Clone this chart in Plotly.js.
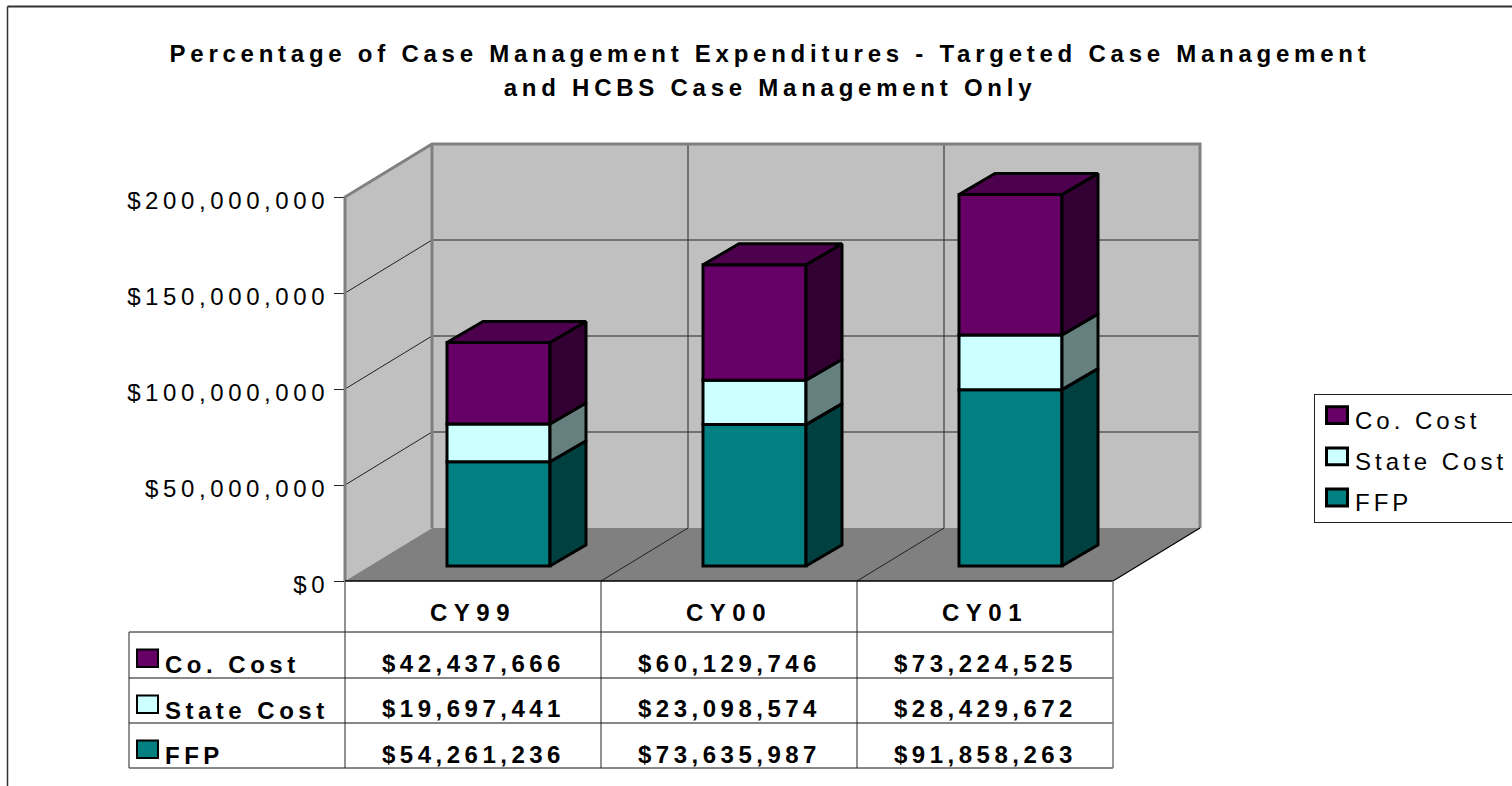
<!DOCTYPE html>
<html><head><meta charset="utf-8">
<script src="https://cdn.plot.ly/plotly-3.0.1.min.js"></script>
<style>
html,body{margin:0;padding:0;background:#fff;overflow:hidden}
#chart{width:1512px;height:786px}
.gtitle{letter-spacing:4.75px}
.xtick text{letter-spacing:6.5px}
.ytick text{letter-spacing:4.6px}
.legendtext{letter-spacing:4px}
.annotation-text{letter-spacing:4.5px}
#chart .legendtext{transform:translateY(2.5px)}
#chart .legendpoints path{transform:translate(22px,-2px) scale(1.75,1.4);vector-effect:non-scaling-stroke}
</style></head><body><div id="chart"></div>
<script>
const categories = ['CY99','CY00','CY01'];
const coCost = [42437666,60129746,73224525];
const stateCost = [19697441,23098574,28429672];
const ffp = [54261236,73635987,91858263];
const yTicks = [0,50000000,100000000,150000000,200000000];
const titleText = 'Percentage of Case Management Expenditures - Targeted Case Management<br>and HCBS Case Management Only';

const series = [
  {name:'FFP', values:ffp, color:'#008080', side:'#004040', rank:3},
  {name:'State Cost', values:stateCost, color:'#CCFFFF', side:'#668080', rank:2},
  {name:'Co. Cost', values:coCost, color:'#660066', side:'#330033', top:'#4D004D', rank:1}
];

// page geometry
const W=1512,H=786,L=345,R=1200,T=145,B=581;
const unitPx=256, valPx=384/200000000;
const px=x=>(x-L)/(R-L), py=y=>(B-y)/(B-T);
const xMax=(R-L)/unitPx-0.5, yMax=(B-T)/valPx;
const dxp=x=>(x+0.5)/(xMax+0.5), dyp=y=>y/yMax;
// depth of the 3-D box, and of each column, in axis units
const wallDX=87/unitPx, wallDY=53/valPx;
const barDX=36/unitPx, barDY=21/valPx;
const barShift=25.5/unitPx, barW=103/unitPx, floorLift=15/valPx;
const xs=categories.map((c,i)=>i);
const x0=-0.5, x3=2.5, yTop=200000000;
const fmt=v=>'$'+v.toLocaleString('en-US');

const traces=[]; const cum=xs.map(()=>floorLift);
series.forEach(s=>{
  const base=cum.slice();
  traces.push({type:'bar',name:s.name,legendgroup:s.name,legendrank:s.rank,x:xs.map(i=>i+barShift),y:s.values,base:base,width:barW,
    marker:{color:s.color,line:{color:'#000',width:3}},hoverinfo:'y+name'});
  const sx=[],sy=[];
  xs.forEach(i=>{
    const r=i+barShift+barW/2, b=base[i], t=b+s.values[i];
    sx.push(r,r+barDX,r+barDX,r,r,null);
    sy.push(b,b+barDY,t+barDY,t,b,null);
    cum[i]=t;
  });
  traces.push({type:'scatter',mode:'lines',x:sx,y:sy,fill:'toself',fillcolor:s.side,line:{color:'#000',width:3},
    showlegend:false,hoverinfo:'skip',cliponaxis:false});
});
const topS=series[series.length-1], tx=[],ty=[];
xs.forEach(i=>{
  const l=i+barShift-barW/2, r=i+barShift+barW/2, t=cum[i];
  tx.push(l,l+barDX,r+barDX,r,l,null); ty.push(t,t+barDY,t+barDY,t,t,null);
});
traces.push({type:'scatter',mode:'lines',x:tx,y:ty,fill:'toself',fillcolor:topS.top,line:{color:'#000',width:3},
  showlegend:false,hoverinfo:'skip',cliponaxis:false});

const poly=(xa,ya)=>'M'+xa.map((x,i)=>x+','+ya[i]).join('L')+'Z';
const open=(xa,ya)=>'M'+xa.map((x,i)=>x+','+ya[i]).join('L');
const bx=x0+wallDX, bx3=x3+wallDX;
const shapes=[];
const below=(path,fill,color,width)=>shapes.push({type:'path',xref:'x',yref:'y',layer:'below',path:path,
  fillcolor:fill||'rgba(0,0,0,0)',line:{color:color||'rgba(0,0,0,0)',width:width||0}});
const frame=(xa,ya,color,width)=>shapes.push({type:'path',xref:'paper',yref:'paper',layer:'above',
  path:open(xa.map(dxp),ya.map(dyp)),fillcolor:'rgba(0,0,0,0)',line:{color:color,width:width}});
// walls and floor
below(poly([bx,bx3,bx3,bx],[wallDY,wallDY,yTop+wallDY,yTop+wallDY]),'#C0C0C0');
below(poly([x0,bx,bx,x0],[0,wallDY,yTop+wallDY,yTop]),'#C0C0C0');
below(poly([x0,bx,bx3,x3],[0,wallDY,wallDY,0]),'#808080');
// gridlines
yTicks.slice(1,-1).forEach(v=>{
  below(open([x0,bx,bx3],[v,v+wallDY,v+wallDY]),null,'#222',1);
});
[0.5,1.5].forEach(c=>{
  below(open([c,c+wallDX,c+wallDX],[0,wallDY,yTop+wallDY]),null,'#222',1);
});
// frame of the walls
frame([x0,x0,bx,bx3,bx3],[0,yTop,yTop+wallDY,yTop+wallDY,wallDY],'#808080',3);
frame([bx,bx],[wallDY,yTop+wallDY],'#808080',3);
frame([x3,bx3],[0,wallDY],'#000',1.2);

const line=(x1,y1,x2,y2,color,width,xref)=>shapes.push({type:'line',xref:xref||'paper',yref:'paper',x0:x1,x1:x2,y0:y1,y1:y2,
  line:{color:color||'#000',width:width||1}});
// outer chart frame
line(px(7.5),py(6.5),px(W+2),py(6.5),'#333',2);
line(px(7.5),py(6.5),px(7.5),py(H+2),'#333',1.5);
// data table grid
const rowY=[632,678,723,768];
line(px(L),py(B),px(L+768),py(B),'#000',1.5);
rowY.forEach(y=>line(px(129),py(y),px(L+768),py(y),'#111',1));
[0,1,2,3].forEach(i=>line(px(L+i*unitPx),py(B),px(L+i*unitPx),py(rowY[3]),i===3?'#777':'#222',i===3?1.5:1));
line(px(129),py(rowY[0]),px(129),py(rowY[3]),'#222',1);

const annotations=[];
const tableFont={family:'Liberation Sans, Arial, sans-serif',size:24,color:'#000',weight:700};
const rows=series.slice().reverse();
rows.forEach((s,r)=>{
  const cy=[663,708,754][r], ly=[664,710,755][r];
  annotations.push({xref:'paper',yref:'paper',x:px(165),y:py(ly),xanchor:'left',yanchor:'middle',showarrow:false,text:s.name,font:tableFont,xshift:-2});
  s.values.forEach((v,i)=>annotations.push({xref:'x',yref:'paper',x:xs[i],y:py(cy),xanchor:'center',yanchor:'middle',showarrow:false,text:fmt(v),font:tableFont}));
  const sy=[649.5,695.5,740.5][r];
  shapes.push({type:'rect',xref:'paper',yref:'paper',x0:px(137),x1:px(158),y0:py(sy),y1:py(sy+17.5),fillcolor:s.color,line:{color:'#000',width:2}});
});

const layout={
  width:W,height:H,margin:{l:L,r:W-R,t:T,b:H-B,pad:0,autoexpand:false},
  paper_bgcolor:'#fff',plot_bgcolor:'rgba(0,0,0,0)',
  barmode:'overlay',
  font:{family:'Liberation Sans, Arial, sans-serif',color:'#000'},
  title:{text:titleText,x:770/W,xanchor:'center',y:1-62/H,yanchor:'top',
    font:{family:'Liberation Sans, Arial, sans-serif',size:24,weight:700,color:'#000'}},
  xaxis:{range:[-0.5,xMax],tickvals:xs,ticktext:categories,showgrid:false,zeroline:false,showline:false,ticks:'',
    ticklabelstandoff:15,tickfont:{size:24,weight:700},fixedrange:true},
  yaxis:{range:[0,yMax],tickvals:yTicks,ticktext:yTicks.map(fmt),showgrid:false,zeroline:false,showline:false,
    ticks:'outside',ticklen:10,tickcolor:'#222',tickwidth:1,ticklabelstandoff:0,ticklabelshift:4,tickfont:{size:24},fixedrange:true},
  showlegend:true,
  legend:{xref:'container',yref:'container',x:1314/W,y:1-394/H,xanchor:'left',yanchor:'top',bgcolor:'#fff',bordercolor:'#222',borderwidth:1,
    traceorder:'grouped',tracegroupgap:7,font:{size:24,color:'#000'},entrywidth:190,entrywidthmode:'pixels'},
  shapes:shapes,annotations:annotations
};
Plotly.newPlot('chart',traces,layout,{displayModeBar:false}).then(()=>{
  const lines=document.querySelectorAll('#chart .gtitle tspan.line');
  if(lines[1]) lines[1].setAttribute('dy','34px');
});
</script></body></html>
